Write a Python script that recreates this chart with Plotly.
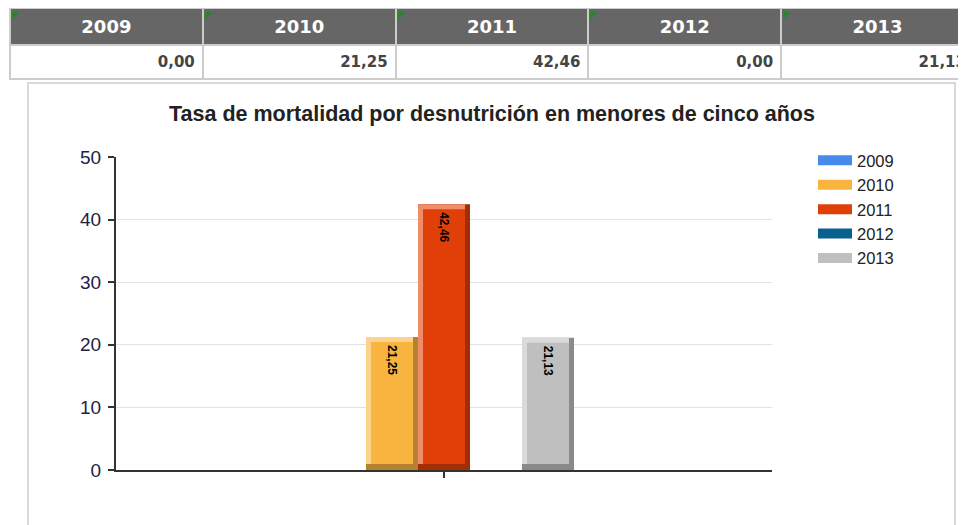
import numpy as np
import plotly.graph_objects as go

# Datos: tasa de mortalidad por desnutricion en menores de cinco anos
years = ["2009", "2010", "2011", "2012", "2013"]
rates = [0.00, 21.25, 42.46, 0.00, 21.13]
bar_colors = ["#468bec", "#f9b440", "#e04008", "#07608f", "#bfbfbf"]
light_colors = ["#8ab4f4", "#fdd38c", "#ef8c6a", "#4f8fb5", "#dadada"]
dark_colors = ["#2e62ad", "#b58330", "#a32e05", "#054566", "#8a8a8a"]
title = "Tasa de mortalidad por desnutrición en menores de cinco años"

W, H = 966, 525
OFF = 8  # page body margin
# plot area in screen pixels
px_left, px_right, px_top, px_bottom = 116 - OFF, 772 - OFF, 157 - OFF, 470 - OFF
ymax = 50

x_per_px = 1.0 / (px_right - px_left)
y_per_px = ymax / (px_bottom - px_top)

bar_w = 52 * x_per_px
group_start = -len(years) * bar_w / 2
edge_x = 5 * x_per_px
edge_top = 5 * y_per_px
edge_bottom = 6 * y_per_px

fig = go.Figure()

vals = np.array(rates)
for i, yr in enumerate(years):
    off = group_start + i * bar_w
    v = vals[i]
    # shadow (right + bottom)
    fig.add_trace(go.Bar(x=["c"], y=[v], offset=off, width=bar_w,
                         marker=dict(color=dark_colors[i], line=dict(width=0)),
                         showlegend=False, hoverinfo="skip"))
    # highlight (left + top)
    hl = max(v - edge_bottom, 0)
    fig.add_trace(go.Bar(x=["c"], y=[hl], base=[v - hl], offset=off, width=bar_w - edge_x,
                         marker=dict(color=light_colors[i], line=dict(width=0)),
                         showlegend=False, hoverinfo="skip"))
    # face
    face = max(v - edge_bottom - edge_top, 0)
    fig.add_trace(go.Bar(x=["c"], y=[face], base=[edge_bottom if v > 0 else 0],
                         offset=off + edge_x, width=bar_w - 2 * edge_x,
                         marker=dict(color=bar_colors[i], line=dict(width=0)),
                         name=yr, showlegend=False,
                         text=[f"{v:.2f}".replace(".", ",")] if v > 0 else [""],
                         textposition="inside", insidetextanchor="end",
                         textangle=90, constraintext="none",
                         textfont=dict(family="Liberation Sans", size=12,
                                       color="black", weight="bold")))

# legend entries (thick line = wide swatch)
for i, yr in enumerate(years):
    fig.add_trace(go.Scatter(x=[None], y=[None], mode="lines", name=yr,
                             line=dict(color=bar_colors[i], width=13)))

# tabla superior
header_vals = [f"<b>{y}</b>" for y in years]
cell_vals = [[f"<b>{f'{r:.2f}'.replace('.', ',')}</b>"] for r in rates]
col_widths = [193, 193, 193, 193, 193]
tbl_left, tbl_top = 10 - OFF, 8 - OFF
fig.add_trace(go.Table(
    domain=dict(x=[tbl_left / W, 1], y=[1 - 80 / H, 1 - tbl_top / H]),
    columnwidth=col_widths,
    header=dict(values=header_vals, fill_color="#666666", height=30,
                line=dict(color="#cccccc", width=2), align="center",
                font=dict(family="DejaVu Sans", size=18, color="white")),
    cells=dict(values=cell_vals, fill_color="white", height=30,
               line=dict(color="#cccccc", width=2), align="right",
               font=dict(family="DejaVu Sans", size=15, color="#444444")),
))

# green corner marks on header cells
annotations = []
cx = tbl_left
for w in col_widths:
    annotations.append(dict(text="◤", xref="paper", yref="paper",
                            x=(cx + 1) / W, y=1 - (tbl_top + 1) / H,
                            xanchor="left", yanchor="top", showarrow=False,
                            borderpad=0,
                            font=dict(family="DejaVu Sans", size=9, color="#1f8a1f")))
    cx += w * (W - tbl_left) / sum(col_widths)

shapes = [dict(type="rect", xref="paper", yref="paper",
               x0=(28 - OFF) / W, x1=(955 - OFF) / W, y0=-0.05, y1=1 - (83 - OFF) / H,
               line=dict(color="#d9d9d9", width=2), fillcolor="rgba(0,0,0,0)",
               layer="below")]

fig.update_layout(
    width=W, height=H,
    margin=dict(l=0, r=0, t=0, b=0, autoexpand=False),
    paper_bgcolor="white", plot_bgcolor="white",
    barmode="overlay",
    shapes=shapes,
    annotations=annotations,
    title=dict(text=f"<b>{title}</b>", x=(492 - OFF) / W, y=1 - (113 - OFF) / H,
               xref="paper", yref="paper", xanchor="center", yanchor="middle",
               automargin=False,
               font=dict(family="Liberation Sans", size=21.5, color="#222222")),
    legend=dict(x=(821 - 8 - OFF) / W, y=1 - (143 - OFF) / H, xanchor="left", yanchor="top",
                traceorder="normal", itemwidth=34,
                font=dict(family="Liberation Sans", size=16.5, color="#222222")),
    xaxis=dict(domain=[px_left / W, px_right / W], range=[-0.5, 0.5],
               showticklabels=False, ticks="outside", ticklen=6, tickwidth=2,
               tickcolor="#333333", showline=True, linecolor="#333333",
               linewidth=2, showgrid=False, fixedrange=True, automargin=False),
    yaxis=dict(domain=[1 - px_bottom / H, 1 - px_top / H], range=[0, ymax],
               dtick=10, ticks="outside", ticklen=6, tickwidth=2,
               tickcolor="#333333", showline=True, linecolor="#333333",
               linewidth=2, gridcolor="#e2e2e2", zeroline=False,
               ticklabelstandoff=3, automargin=False,
               tickfont=dict(family="Liberation Sans", size=19, color="#222244")),
)

fig.write_html("out.html")
